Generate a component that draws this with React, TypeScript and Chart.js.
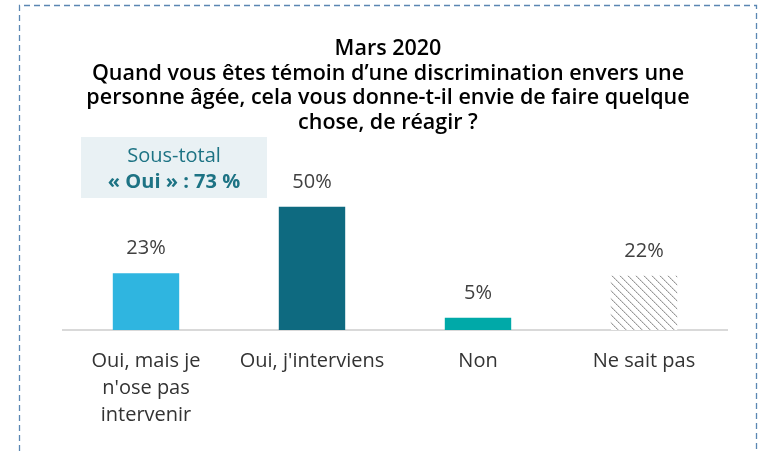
import { useEffect, useRef } from "react";
import { Chart, registerables } from "chart.js";

Chart.register(...registerables);

const categories: string[][] = [
  ["Oui, mais je", "n'ose pas", "intervenir"],
  ["Oui, j'interviens"],
  ["Non"],
  ["Ne sait pas"],
];
const values: number[] = [23, 50, 5, 22];
const valueLabels: string[] = ["23%", "50%", "5%", "22%"];
const titleLines: string[] = [
  "Mars 2020",
  "Quand vous êtes témoin d’une discrimination envers une",
  "personne âgée, cela vous donne-t-il envie de faire quelque",
  "chose, de réagir ?",
];
const subtotalLines: string[] = ["Sous-total", "« Oui » : 73 %"];
const barColors: string[] = ["#2fb5e0", "#0e6a80", "#00a9a8", "hatch"];

const W = 761;
const H = 451;
const FONT = "'Open Sans', Lato, sans-serif";

function makeHatch(): CanvasPattern | string {
  const c = document.createElement("canvas");
  c.width = 8;
  c.height = 8;
  const g = c.getContext("2d");
  if (!g) return "#aaa";
  g.fillStyle = "#ffffff";
  g.fillRect(0, 0, 8, 8);
  for (let i = 0; i < 8; i++) {
    g.fillStyle = i % 2 === 0 ? "#969696" : "#b4b4b4";
    g.fillRect(i, i, 1, 1);
    g.fillStyle = "#e0e0e0";
    g.fillRect((i + 1) % 8, i, 1, 1);
  }
  const p = g.createPattern(c, "repeat");
  return p || "#aaa";
}

const overlayPlugin = {
  id: "overlay",
  beforeDraw(chart: any) {
    const ctx: CanvasRenderingContext2D = chart.ctx;
    ctx.save();
    ctx.fillStyle = "#ffffff";
    ctx.fillRect(0, 0, W, H);

    // dashed frame
    ctx.strokeStyle = "#5b87b3";
    ctx.lineWidth = 1.3;
    ctx.setLineDash([6, 4]);
    ctx.beginPath();
    ctx.moveTo(19.5, H + 10);
    ctx.lineTo(19.5, 5.5);
    ctx.lineTo(756.5, 5.5);
    ctx.lineTo(756.5, H + 10);
    ctx.stroke();
    ctx.setLineDash([]);

    // title
    ctx.fillStyle = "#000000";
    ctx.textAlign = "center";
    ctx.textBaseline = "alphabetic";
    ctx.font = `600 21.5px ${FONT}`;
    titleLines.forEach((t, i) => {
      ctx.fillText(t, 388, 55 + i * 24.5);
    });

    // subtotal box
    ctx.fillStyle = "#e9f1f4";
    ctx.fillRect(81, 137, 186, 61);
    ctx.fillStyle = "#1d7384";
    ctx.font = `20px ${FONT}`;
    ctx.fillText(subtotalLines[0], 174, 162);
    ctx.font = `bold 20px ${FONT}`;
    ctx.fillText(subtotalLines[1], 174, 188);
    ctx.restore();
  },
  afterDatasetsDraw(chart: any) {
    const ctx: CanvasRenderingContext2D = chart.ctx;
    const meta = chart.getDatasetMeta(0);
    ctx.save();
    ctx.fillStyle = "#404040";
    ctx.font = `20px ${FONT}`;
    ctx.textAlign = "center";
    ctx.textBaseline = "alphabetic";
    meta.data.forEach((bar: any, i: number) => {
      ctx.fillText(valueLabels[i], bar.x, bar.y - 19);
    });
    ctx.restore();
  },
};

export default function App() {
  const ref = useRef<HTMLCanvasElement | null>(null);

  useEffect(() => {
    document.body.style.margin = "0";
    const canvas = ref.current;
    if (!canvas) return;
    const hatch = makeHatch();
    const colors = barColors.map((c) => (c === "hatch" ? hatch : c));
    const chart = new Chart(canvas, {
      type: "bar",
      data: {
        labels: categories,
        datasets: [
          {
            data: values,
            backgroundColor: colors as any,
            borderWidth: 0,
            categoryPercentage: 1,
            barPercentage: 0.4,
          },
        ],
      },
      options: {
        animation: false,
        responsive: false,
        devicePixelRatio: 1,
        layout: { padding: { top: 182, left: 63, right: 34, bottom: 4 } },
        plugins: {
          legend: { display: false },
          title: { display: false },
          tooltip: { enabled: false },
        },
        scales: {
          x: {
            grid: { display: false, drawTicks: false },
            border: { display: true, color: "#d9d9d9", width: 2 },
            ticks: {
              color: "#333333",
              padding: 18,
              font: { family: FONT, size: 20, lineHeight: 27 / 20 },
              maxRotation: 0,
              autoSkip: false,
            },
          },
          y: {
            display: false,
            min: 0,
            max: 60,
          },
        },
      },
      plugins: [overlayPlugin],
    });
    return () => chart.destroy();
  }, []);

  return (
    <div style={{ width: W, height: H, overflow: "hidden" }}>
      <canvas ref={ref} width={W} height={H} style={{ display: "block" }} />
    </div>
  );
}
